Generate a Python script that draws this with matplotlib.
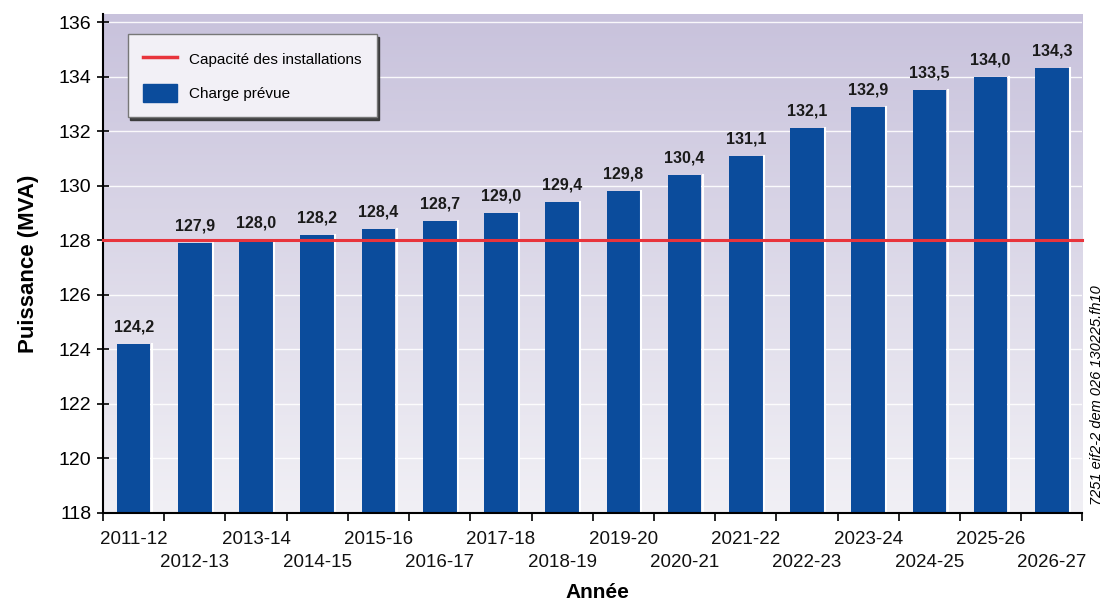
import numpy as np
import matplotlib.pyplot as plt
from matplotlib.colors import LinearSegmentedColormap
from matplotlib.lines import Line2D
from matplotlib.patches import Patch

# Forecast load per year versus installed capacity
annees = ["2011-12", "2012-13", "2013-14", "2014-15", "2015-16", "2016-17",
          "2017-18", "2018-19", "2019-20", "2020-21", "2021-22", "2022-23",
          "2023-24", "2024-25", "2025-26", "2026-27"]
charge = [124.2, 127.9, 128.0, 128.2, 128.4, 128.7, 129.0, 129.4,
          129.8, 130.4, 131.1, 132.1, 132.9, 133.5, 134.0, 134.3]
capacite = 128.0
y_ticks = [118, 120, 122, 124, 126, 128, 130, 132, 134, 136]

BAR = "#0b4c9c"
RED = "#e8343c"

plt.rcParams["font.family"] = ["Liberation Sans", "DejaVu Sans"]

fig = plt.figure(figsize=(11.03, 6.02), dpi=100)
ax = fig.add_axes([0.0934, 0.148, 0.888, 0.829])

n = len(annees)
x = np.arange(n)
y0, y1 = 118, 136.3
ax.set_xlim(-0.5, n - 0.5)
ax.set_ylim(y0, y1)

# vertical gradient background: pale at the bottom, lavender at the top
cmap = LinearSegmentedColormap.from_list("bg", ["#f1f0f5", "#c8c2dc"])
grad = np.linspace(0, 1, 256).reshape(-1, 1)
ax.imshow(grad, aspect="auto", cmap=cmap, origin="lower",
          extent=(-0.5, n - 0.5, y0, y1), zorder=0)

for t in y_ticks[1:]:
    ax.axhline(t, color="white", lw=1.0, alpha=0.9, zorder=1)

# bars with a thin white highlight on the right edge
bars = ax.bar(x, [v - y0 for v in charge], bottom=y0, width=0.55,
              color=BAR, zorder=2)
for b in bars:
    ax.plot([b.get_x() + b.get_width() + 0.02] * 2, [y0, b.get_y() + b.get_height()],
            color="white", lw=1.5, zorder=2)

for xi, v in zip(x, charge):
    ax.text(xi, v + 0.35, f"{v:.1f}".replace(".", ","), ha="center", va="bottom",
            fontsize=11.5, fontweight="bold", color="#1a1a1a", zorder=4)

ax.axhline(capacite, color=RED, lw=2.2, zorder=3, clip_on=False)

for s in ["top", "right"]:
    ax.spines[s].set_visible(False)
ax.spines["left"].set_linewidth(1.5)
ax.spines["bottom"].set_linewidth(1.5)

ax.set_yticks(y_ticks)
ax.set_yticklabels([str(t) for t in y_ticks], fontsize=14)
ax.tick_params(axis="y", direction="inout", length=9, width=1.2, pad=4)

# category boundaries carry the ticks, labels sit under each bar on two rows
ax.set_xticks(np.arange(-0.5, n, 1.0))
ax.set_xticklabels([])
ax.tick_params(axis="x", direction="out", length=6, width=1.2)
for xi, lab in zip(x, annees):
    dy = -0.053 if xi % 2 == 0 else -0.099
    ax.text(xi, dy, lab, transform=ax.get_xaxis_transform(), ha="center",
            va="center", fontsize=13.5, color="#111111")

ax.set_ylabel("Puissance (MVA)", fontsize=16, fontweight="bold", labelpad=14)
fig.text(0.542, 0.015, "Année", ha="center", va="center",
         fontsize=15, fontweight="bold")

handles = [Line2D([0], [0], color=RED, lw=2.5),
           Patch(facecolor=BAR, edgecolor=BAR)]
leg = ax.legend(handles, ["Capacité des installations", "Charge prévue"],
                loc="upper left", bbox_to_anchor=(0.022, 0.965), fontsize=11,
                frameon=True, fancybox=False, borderpad=1.0,
                labelspacing=1.0, handlelength=2.2, handleheight=1.5,
                borderaxespad=0.2,
                shadow={"ox": 2, "oy": -2, "color": "#333333", "alpha": 0.9})
leg.get_frame().set_facecolor("#f2f0f6")
leg.get_frame().set_edgecolor("#777777")
leg.get_frame().set_linewidth(1.0)
leg.set_zorder(5)

fig.text(0.9945, 0.344, "7251 eif2-2 dem 026 130225.fh10", rotation=90,
         ha="center", va="center", fontsize=10.5, style="italic")

fig.savefig("out.png", dpi=100)
